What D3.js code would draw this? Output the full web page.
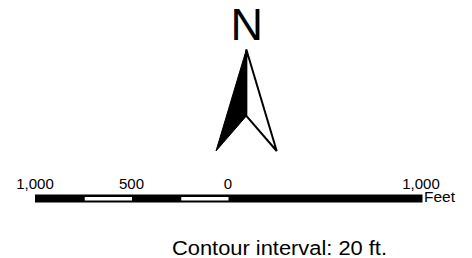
<!DOCTYPE html>
<html>
<head>
<meta charset="utf-8">
<script src="https://cdn.jsdelivr.net/npm/d3@7"></script>
<style>
  html, body { margin: 0; padding: 0; background: #fff; }
  svg { display: block; }
  text { font-family: "Liberation Sans", Arial, Helvetica, sans-serif; fill: #000; }
</style>
</head>
<body>
<svg id="chart" width="472" height="258"></svg>
<script>
// ---- data ----
const scaleDomain = [-1000, 1000];                 // feet
const tickValues = [-1000, -500, 0, 1000];
const tickLabels = ["1,000", "500", "0", "1,000"];
const segmentBreaks = [-1000, -750, -500, -250, 0, 1000];
const segmentFills = ["black", "white", "black", "white", "black"];
const unitLabel = "Feet";
const northLabel = "N";
const noteText = "Contour interval: 20 ft.";
// north arrow shape (unit coordinates: x -1..1, y 0..1)
const arrowLeft = [[0, 0], [-1, 1], [0, 0.655]];
const arrowRight = [[0, 0], [0, 0.655], [1, 1]];

// ---- drawing ----
const svg = d3.select("#chart");
const W = 472, H = 258;

const x = d3.scaleLinear().domain(scaleDomain).range([35, 421]);
const barTop = 194.5, barH = 8;

// scale bar: full black base
const bar = svg.append("g");
bar.append("rect")
  .attr("x", x(scaleDomain[0]))
  .attr("y", barTop)
  .attr("width", x(scaleDomain[1]) - x(scaleDomain[0]) + 1.5)
  .attr("height", barH)
  .attr("fill", "#000");

const segs = d3.pairs(segmentBreaks).map((p, i) => ({a: p[0], b: p[1], fill: segmentFills[i]}));
bar.selectAll("rect.seg")
  .data(segs.filter(d => d.fill === "white"))
  .join("rect")
  .attr("class", "seg")
  .attr("x", d => x(d.a) + 1.5)
  .attr("y", barTop + 2.5)
  .attr("width", d => x(d.b) - x(d.a) - 1)
  .attr("height", barH - 4.5)
  .attr("fill", "#fff");

// tick labels
svg.append("g").selectAll("text")
  .data(tickValues)
  .join("text")
  .attr("x", d => x(d))
  .attr("y", 188.5)
  .attr("text-anchor", "middle")
  .attr("font-size", 15)
  .text((d, i) => tickLabels[i]);

svg.append("text")
  .attr("x", x(scaleDomain[1]) + 3)
  .attr("y", 201.5)
  .attr("font-size", 15.5)
  .text(unitLabel);

// north arrow
const ax = d3.scaleLinear().domain([-1, 1]).range([216, 276.7]);
const ay = d3.scaleLinear().domain([0, 1]).range([49.5, 151]);
const line = d3.line().x(d => ax(d[0])).y(d => ay(d[1]));
svg.append("path")
  .attr("d", line(arrowRight) + "Z")
  .attr("fill", "#fff")
  .attr("stroke", "#000")
  .attr("stroke-width", 2)
  .attr("stroke-linejoin", "miter");
svg.append("path")
  .attr("d", line(arrowLeft) + "Z")
  .attr("fill", "#000")
  .attr("stroke", "#000")
  .attr("stroke-width", 1);

svg.append("text")
  .attr("x", ax(0) + 0.5)
  .attr("y", 39.5)
  .attr("text-anchor", "middle")
  .attr("font-size", 45)
  .text(northLabel);

// note
svg.append("text")
  .attr("x", 172)
  .attr("y", 254.5)
  .attr("font-size", 19.5)
  .attr("textLength", 215)
  .attr("lengthAdjust", "spacingAndGlyphs")
  .text(noteText);
</script>
</body>
</html>
